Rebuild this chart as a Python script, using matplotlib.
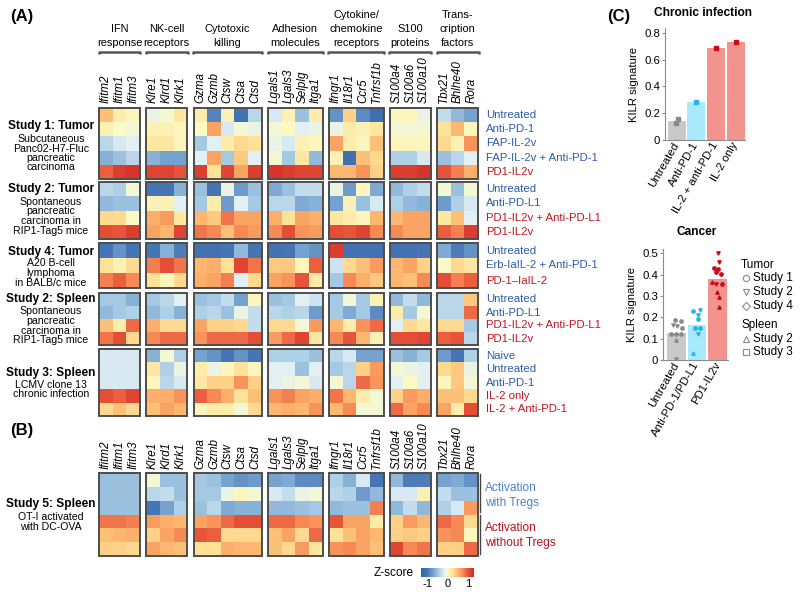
import numpy as np
import matplotlib
matplotlib.use('Agg')
import matplotlib.pyplot as plt
from matplotlib.colors import LinearSegmentedColormap
from matplotlib.patches import Rectangle
from matplotlib.cm import ScalarMappable
from matplotlib.colors import Normalize

plt.rcParams['font.family'] = ['Liberation Sans', 'DejaVu Sans']

# ---- heatmap data -------------------------------------------------------
group_names = [['IFN', 'response'], ['NK-cell', 'receptors'], ['Cytotoxic', 'killing'],
               ['Adhesion', 'molecules'], ['Cytokine/', 'chemokine', 'receptors'],
               ['S100', 'proteins'], ['Trans-', 'cription', 'factors']]
group_genes = [['Ifitm2', 'Ifitm1', 'Ifitm3'], ['Klre1', 'Klrd1', 'Klrk1'],
               ['Gzma', 'Gzmb', 'Ctsw', 'Ctsa', 'Ctsd'], ['Lgals1', 'Lgals3', 'Selplg', 'Itga1'],
               ['Ifngr1', 'Il18r1', 'Ccr5', 'Tnfrsf1b'], ['S100a4', 'S100a6', 'S100a10'],
               ['Tbx21', 'Bhlhe40', 'Rora']]

study1_tumor = [
    [0.45, 0.15, 0.05, -0.1, -0.05, 0.2, 0.15, -0.9, 0.1, -1.05, -0.35, -0.2, 0.1, -0.5, 0.15, -0.8, 0.35, -0.85, -1.1, 0.05, 0.05, -0.1, -0.3, -0.55, -0.7],
    [0.1, 0.0, -0.05, 0.1, 0.1, 0.05, 0.0, 0.6, -0.2, -0.05, -0.1, -0.05, 0.0, -0.15, -0.1, -0.1, 0.15, 0.1, 0.2, -0.05, -0.05, -0.05, 0.25, 0.5, 0.05],
    [-0.35, -0.2, -0.15, 0.2, 0.2, 0.05, -0.45, -0.15, 0.15, 0.3, 0.25, -0.1, -0.2, 0.1, 0.05, 0.6, 0.15, 0.05, 0.45, 0.05, 0.05, 0.05, 0.3, 0.1, 0.7],
    [-0.6, -0.5, -0.35, -0.6, -0.7, -0.7, -0.15, 0.6, -0.45, 0.4, -0.15, -0.05, -0.45, 0.2, -0.55, 0.1, -1.1, 0.45, 0.3, -0.4, -0.4, -0.2, -0.5, -0.35, -0.15],
    [0.95, 1.15, 1.2, 1.1, 1.1, 1.0, 1.15, 0.25, 1.1, 0.6, 1.15, 1.2, 1.15, 1.1, 1.1, 0.5, 0.5, 0.7, 0.35, 1.15, 1.15, 1.2, 1.0, 0.8, 0.55],
]
study2_tumor = [
    [-0.35, -0.4, -0.05, -1.0, -1.0, -0.6, -0.5, -1.0, -0.1, -0.75, -0.5, -0.65, -0.5, -0.3, -0.3, -0.1, -0.75, 0.05, -0.65, -0.55, -0.4, -0.3, -0.05, -0.5, -0.05],
    [-0.55, -0.5, -0.5, 0.1, 0.1, -0.15, -0.45, 0.15, -0.75, -0.15, -0.45, -0.35, -0.35, -0.65, -0.6, -0.7, 0.1, -0.5, -0.2, -0.4, -0.55, -0.6, -0.75, -0.4, -0.2],
    [0.3, 0.3, 0.0, 0.55, 0.65, 0.2, 0.5, 0.4, 0.85, 0.6, 0.6, 0.55, 0.25, 0.6, 0.55, 0.2, 0.15, 0.05, 0.5, 0.5, 0.6, 0.6, 0.2, 0.45, -0.15],
    [1.05, 1.0, 1.15, 0.6, 0.5, 1.1, 0.85, 0.75, 0.45, 0.75, 0.65, 0.75, 1.05, 0.7, 0.65, 1.05, 1.0, 1.1, 0.75, 0.75, 0.6, 0.6, 0.95, 0.8, 1.15],
]
study4_tumor = [
    [-1.0, -0.8, -1.0, -1.0, -0.6, -0.95, -1.05, -1.05, -1.0, -0.55, -1.0, -1.05, -1.0, -0.7, -0.8, 1.15, -1.05, -1.05, -1.05, -1.05, -1.05, -1.0, -0.65, -0.95, -0.8],
    [0.25, 0.1, 0.3, 0.8, 1.05, 0.85, 0.5, 0.55, 0.25, 1.1, 0.85, 0.4, 0.4, 0.05, 0.95, -0.25, 0.3, 0.45, 0.65, 0.5, 0.6, 0.35, 0.0, 0.3, 0.2],
    [0.8, 0.95, 0.75, 0.25, 0.05, 0.3, 0.55, 0.6, 0.8, -0.15, 0.3, 0.6, 0.7, 1.0, 0.15, -0.45, 0.75, 0.55, 0.4, 0.5, 0.45, 0.75, 1.05, 0.8, 0.95],
]
study2_spleen = [
    [-0.45, -0.45, -0.6, -0.45, -0.35, -0.15, -0.5, -0.45, -0.3, -0.7, 0.05, -0.5, -0.45, -0.15, -0.25, -0.45, -0.05, -0.45, 0.1, -0.55, -0.3, -0.55, -0.35, -0.35, 0.4],
    [-0.55, -0.45, -0.4, -0.55, -0.4, -0.6, -0.4, -0.35, -0.5, -0.1, -0.3, -0.35, -0.4, -0.35, -0.75, -0.45, -0.65, -0.45, -0.85, 0.15, -0.45, -0.05, -0.35, -0.35, 0.9],
    [0.45, 0.15, 0.9, 0.55, 0.3, 0.3, 0.6, 0.35, 0.35, 0.3, -0.3, 0.3, 0.3, -0.05, 0.65, 0.5, 0.15, 0.7, 0.9, -0.15, 0.3, 0.2, 0.3, 0.3, -0.45],
    [0.85, 1.05, 0.3, 0.75, 0.9, 0.9, 0.7, 0.9, 0.9, 0.9, 1.05, 0.65, 0.9, 1.1, 0.2, 0.75, 1.0, 0.5, 0.1, 1.05, 1.05, 1.1, 0.95, 1.0, -0.35],
]
study3_spleen = [
    [-0.2, -0.2, -0.2, -0.6, -0.05, -0.4, -0.7, -0.8, -1.0, -0.8, -1.0, -0.4, -0.4, -0.4, -0.5, -0.35, -0.2, -0.7, -0.7, -0.5, -0.6, -0.45, -0.75, -1.0, -0.4],
    [-0.2, -0.2, -0.2, 0.2, -0.4, -0.1, 0.15, -0.1, 0.05, 0.25, 0.05, -0.15, -0.15, -0.5, -0.15, -0.45, -0.35, 0.35, 0.65, -0.05, -0.1, -0.15, 0.3, 0.4, -0.1],
    [-0.2, -0.2, -0.2, 0.05, -0.35, -0.2, 0.2, 0.35, 0.35, 0.7, 0.35, -0.15, -0.1, -0.05, -0.2, -0.05, -0.35, 0.9, 0.7, -0.15, 0.0, -0.15, 0.05, 0.4, -0.05],
    [1.05, 0.95, 1.1, 0.55, 0.55, 0.7, 0.95, 0.75, 0.55, 0.25, 0.45, 0.7, 0.8, 0.6, 0.55, 0.85, 0.5, 0.15, -0.05, 0.35, 0.65, 0.55, 0.45, 0.45, 0.3],
    [0.3, 0.45, 0.3, 0.45, 0.6, 0.5, 0.05, 0.15, 0.15, -0.05, 0.3, 0.5, 0.55, 0.5, 0.7, 0.5, 0.75, -0.05, -0.05, 0.9, 0.6, 0.75, 0.6, 0.15, 1.05],
]
study5_spleen = [
    [-0.5, -0.5, -0.5, -0.05, -0.5, -0.5, -0.45, -0.5, -0.7, -0.8, -0.75, -0.7, -0.65, -0.85, -0.85, -0.4, -0.6, -0.2, -1.0, -0.55, -0.95, -0.95, -0.7, -0.65, -0.8],
    [-0.5, -0.5, -0.5, -0.35, -0.3, -0.5, -0.45, -0.45, -0.1, 0.05, -0.05, -0.2, -0.3, -0.1, -0.05, -0.35, -0.4, -0.75, -0.55, -0.2, -0.2, 0.1, -0.3, -0.5, -0.5],
    [-0.5, -0.5, -0.5, -1.0, -0.7, -0.4, -0.5, -0.35, -0.65, -0.6, -0.6, -0.55, -0.55, -0.5, -0.45, -0.55, -0.5, -0.5, 0.8, -0.55, -0.3, -0.55, -0.4, -0.2, 0.65],
    [0.85, 0.85, 0.8, 0.65, 0.55, 0.5, 0.6, 0.7, 0.9, 1.05, 1.05, 0.9, 0.9, 0.75, 0.7, 1.0, 0.6, 0.6, 0.15, 0.35, 0.65, 0.5, 0.9, 0.75, 0.3],
    [0.45, 0.5, 0.55, 0.35, 0.6, 0.75, 1.0, 0.95, 0.3, 0.3, 0.3, 0.45, 0.6, 0.3, 0.9, 0.25, 0.45, 0.6, 0.5, 0.35, 0.4, 0.35, 0.7, 0.75, 0.05],
    [0.35, 0.35, 0.3, 0.6, 0.5, 0.45, 0.25, 0.25, 0.55, 0.5, 0.5, 0.45, 0.3, 0.65, 0.2, 0.7, 0.75, 0.6, 0.45, 1.1, 0.75, 0.85, 0.35, 0.35, 0.9],
]

# treatment labels ('b' = control, 'r' = IL-2 based)
study1_rows = [('Untreated', 'b'), ('Anti-PD-1', 'b'), ('FAP-IL-2v', 'b'), ('FAP-IL-2v + Anti-PD-1', 'b'), ('PD1-IL2v', 'r')]
study2_rows = [('Untreated', 'b'), ('Anti-PD-L1', 'b'), ('PD1-IL2v + Anti-PD-L1', 'r'), ('PD1-IL2v', 'r')]
study4_rows = [('Untreated', 'b'), ('Erb-IaIL-2 + Anti-PD-1', 'b'), ('PD-1\u2013IaIL-2', 'r')]
study3_rows = [('Naive', 'b'), ('Untreated', 'b'), ('Anti-PD-1', 'b'), ('IL-2 only', 'r'), ('IL-2 + Anti-PD-1', 'r')]

# ---- KILR signature data ------------------------------------------------
chronic_groups = ['Untreated', 'Anti-PD-1', 'IL-2 + anti-PD-1', 'IL-2 only']
chronic_means = [0.14, 0.285, 0.69, 0.73]
chronic_pt_group = [0, 0, 1, 2, 3]
chronic_pt_value = [0.155, 0.13, 0.285, 0.69, 0.735]
chronic_pt_dx = [0.08, -0.03, 0.0, 0.0, 0.0]

cancer_groups = ['Untreated', 'Anti-PD-1/PD-L1', 'PD1-IL2v']
cancer_means = [0.127, 0.163, 0.38]
untreated_pts = [0.187, 0.182, 0.162, 0.158, 0.148, 0.124, 0.122, 0.12, 0.095, 0.006]
untreated_mk = ['o', 'o', 'v', 'v', 'o', 'o', 'D', 'o', '^', 'v']
untreated_dx = [-0.05, 0.2, -0.16, 0.05, 0.28, -0.26, -0.02, 0.2, 0.0, 0.0]
anti_pts = [0.228, 0.232, 0.212, 0.19, 0.15, 0.148, 0.12, 0.033]
anti_mk = ['o', 'v', 'v', 'o', 'o', 'o', 'v', '^']
anti_dx = [-0.18, 0.12, 0.07, 0.04, -0.1, 0.15, 0.07, -0.2]
pd1_pts = [0.50, 0.46, 0.43, 0.425, 0.41, 0.405, 0.366, 0.358, 0.358, 0.32, 0.296, 0.25]
pd1_mk = ['v', 'v', 'o', 'o', 'o', 'o', '^', 'v', 'o', '^', '^', '^']
pd1_dx = [0.02, 0.04, -0.2, 0.03, -0.07, 0.15, -0.28, -0.07, 0.2, -0.01, 0.04, 0.04]

# ---- styling --------------------------------------------------------------
W, H = 800, 594
BLUE, RED = '#2b5caa', '#c0161e'
VMIN, VMAX = -1.3, 1.3
stops = [(-1.3, '#3463ab'), (-1.0, '#4575b4'), (-0.7, '#76a2cf'), (-0.4, '#b0d1e7'),
         (-0.15, '#e2eff4'), (0.0, '#fbfbc6'), (0.25, '#fee297'), (0.5, '#fdb870'),
         (0.75, '#f78955'), (1.0, '#e8553a'), (1.3, '#d02724')]
cmap = LinearSegmentedColormap.from_list('z', [((v - VMIN) / (VMAX - VMIN), c) for v, c in stops])

fig = plt.figure(figsize=(W / 100, H / 100), dpi=100)
ax = fig.add_axes([0, 0, 1, 1])
ax.set_xlim(0, W)
ax.set_ylim(H, 0)
ax.axis('off')

CW, GAP, X0 = 13.65, 6.3, 99
col_left = []
x = X0
for genes in group_genes:
    col_left.append(x)
    x += len(genes) * CW + GAP


def draw_block(mat, top, bottom):
    mat = np.array(mat)
    yedges = np.linspace(top, bottom, mat.shape[0] + 1)
    c = 0
    for gi, genes in enumerate(group_genes):
        k = len(genes)
        xl = col_left[gi]
        xedges = xl + CW * np.arange(k + 1)
        ax.pcolormesh(xedges, yedges, mat[:, c:c + k], cmap=cmap, vmin=VMIN, vmax=VMAX, shading='flat')
        ax.add_patch(Rectangle((xl, top), k * CW, bottom - top, fill=False, ec='#4d4d4d', lw=1.4))
        c += k
    return yedges


def gene_labels(ybase):
    for gi, genes in enumerate(group_genes):
        for j, g in enumerate(genes):
            ax.text(col_left[gi] + (j + 0.5) * CW, ybase, g, rotation=90, style='italic',
                    ha='center', va='bottom', fontsize=8.4)


def row_labels(yedges, rows):
    for i, (lab, c) in enumerate(rows):
        ax.text(486, (yedges[i] + yedges[i + 1]) / 2, lab, color=BLUE if c == 'b' else RED,
                ha='left', va='center', fontsize=8.2)


def study_label(title, lines, ytitle, ysub):
    ax.text(51, ytitle, title, fontweight='bold', ha='center', va='center', fontsize=8.6)
    for i, ln in enumerate(lines):
        ax.text(51, ysub + i * 9.5, ln, ha='center', va='center', fontsize=7.6)


# ---- panel A --------------------------------------------------------------
ax.text(10, 16, '(A)', fontweight='bold', fontsize=12, va='center')
for gi, lines in enumerate(group_names):
    k = len(group_genes[gi])
    xc = col_left[gi] + k * CW / 2
    for i, ln in enumerate(lines):
        ax.text(xc, 42.5 - 13.5 * (len(lines) - 1 - i), ln, ha='center', va='center', fontsize=7.9)
    xl, xr = col_left[gi] - 0.5, col_left[gi] + k * CW + 0.5
    ax.plot([xl, xl, xr, xr], [54, 52, 52, 54], color='#555555', lw=1.8, solid_capstyle='butt')
gene_labels(103)

ye = draw_block(study1_tumor, 108, 179)
row_labels(ye, study1_rows)
study_label('Study 1: Tumor', ['Subcutaneous', 'Panc02-H7-Fluc', 'pancreatic', 'carcinoma'], 126, 139)

ye = draw_block(study2_tumor, 182, 239)
row_labels(ye, study2_rows)
study_label('Study 2: Tumor', ['Spontaneous', 'pancreatic', 'carcinoma in', 'RIP1-Tag5 mice'], 189, 202)

ye = draw_block(study4_tumor, 243, 288)
row_labels(ye, study4_rows)
study_label('Study 4: Tumor', ['A20 B-cell', 'lymphoma', 'in BALB/c mice'], 252, 263.5)

ye = draw_block(study2_spleen, 293, 345)
row_labels(ye, study2_rows)
study_label('Study 2: Spleen', ['Spontaneous', 'pancreatic', 'carcinoma in', 'RIP1-Tag5 mice'], 299, 311.5)

ye = draw_block(study3_spleen, 349, 416)
row_labels(ye, study3_rows)
study_label('Study 3: Spleen', ['LCMV clone 13', 'chronic infection'], 373, 384.5)

# ---- panel B --------------------------------------------------------------
ax.text(10, 430, '(B)', fontweight='bold', fontsize=12, va='center')
gene_labels(469)
draw_block(study5_spleen, 473, 556)
study_label('Study 5: Spleen', ['OT-I activated', 'with DC-OVA'], 504, 517)
ax.plot([480, 480], [474, 512], color='#444444', lw=1.0)
ax.plot([480, 480], [515, 554], color='#444444', lw=1.0)
ax.text(485, 488, 'Activation', color='#4f80cc', fontsize=8.6, va='center')
ax.text(485, 503, 'with Tregs', color='#4f80cc', fontsize=8.6, va='center')
ax.text(485, 528, 'Activation', color='#b8141c', fontsize=8.6, va='center')
ax.text(485, 543, 'without Tregs', color='#b8141c', fontsize=8.6, va='center')

# colour bar
ax.text(414, 573, 'Z-score', ha='right', va='center', fontsize=8.6)
cax = fig.add_axes([421 / W, 1 - 577 / H, 53 / W, 9 / H])
cb = fig.colorbar(ScalarMappable(Normalize(VMIN, VMAX), cmap), cax=cax, orientation='horizontal', ticks=[-1, 0, 1])
cb.outline.set_visible(False)
cb.ax.tick_params(length=0, labelsize=8, pad=1.5)
cb.ax.set_xticklabels(['-1', '0', '1'])

# ---- panel C --------------------------------------------------------------
ax.text(607, 16, '(C)', fontweight='bold', fontsize=12, va='center')
bar_cols = ['#c9c9c9', '#a9e9fc', '#f3938d']
pt_cols = ['#8a8a8a', '#27b5e3', '#cc0a17']


def style_axis(a):
    for s in ['top', 'right']:
        a.spines[s].set_visible(False)
    for s in ['left', 'bottom']:
        a.spines[s].set_color('#8c8c8c')
        a.spines[s].set_linewidth(0.8)
    a.tick_params(axis='y', length=2, color='#8c8c8c', labelsize=8.2, pad=1.5)
    a.tick_params(axis='x', length=0, labelsize=8.2, pad=2)
    a.yaxis.set_major_formatter(plt.FuncFormatter(lambda v, p: '0' if v == 0 else '%.1f' % v))
    a.set_ylabel('KILR signature', fontsize=8.2, labelpad=4)


ax1 = fig.add_axes([665 / W, 1 - 140 / H, 80 / W, 112 / H])
ax1.bar(range(4), chronic_means, width=0.92, color=[bar_cols[0], bar_cols[1], bar_cols[2], bar_cols[2]])
chronic_pt_col = [pt_cols[0], pt_cols[1], pt_cols[2], pt_cols[2]]
for g, v, d in zip(chronic_pt_group, chronic_pt_value, chronic_pt_dx):
    ax1.plot(g + d, v, 's', ms=2.2, color=chronic_pt_col[g])
ax1.set_xlim(-0.6, 3.48)
ax1.set_ylim(0, 0.837)
ax1.set_yticks([0, 0.2, 0.4, 0.6, 0.8])
ax1.set_xticks(range(4))
ax1.set_xticklabels(chronic_groups, rotation=60, ha='right', va='center', rotation_mode='anchor')
style_axis(ax1)
ax.text(703, 13, 'Chronic infection', fontweight='bold', ha='center', va='center', fontsize=8.6)

ax2 = fig.add_axes([663 / W, 1 - 360 / H, 65 / W, 111 / H])
ax2.bar(range(3), cancer_means, width=0.9, color=bar_cols)
for gi, (vals, mks, dxs) in enumerate([(untreated_pts, untreated_mk, untreated_dx),
                                        (anti_pts, anti_mk, anti_dx), (pd1_pts, pd1_mk, pd1_dx)]):
    for v, m, d in zip(vals, mks, dxs):
        ax2.plot(gi + d, v, m, ms=2.4 if m != 'D' else 2.0, color=pt_cols[gi], mec=pt_cols[gi])
ax2.set_xlim(-0.65, 2.5)
ax2.set_ylim(0, 0.52)
ax2.set_yticks([0, 0.1, 0.2, 0.3, 0.4, 0.5])
ax2.set_xticks(range(3))
ax2.set_xticklabels(cancer_groups, rotation=60, ha='right', va='center', rotation_mode='anchor')
style_axis(ax2)
ax.text(697, 232, 'Cancer', fontweight='bold', ha='center', va='center', fontsize=8.6)

# legend
leg_items = [('Tumor', None, 265), ('Study 1', 'o', 278), ('Study 2', 'v', 292), ('Study 4', 'D', 306),
             ('Spleen', None, 325), ('Study 2', '^', 339), ('Study 3', 's', 352)]
for lab, m, y in leg_items:
    if m is None:
        ax.text(741, y, lab, ha='left', va='center', fontsize=8.5)
    else:
        ax.plot(745.5, y, m, ms=4.5 if m != 'D' else 3.6, mfc='none', mec='#8a8a8a', mew=0.8)
        ax.text(753, y, lab, ha='left', va='center', fontsize=8.5)

fig.savefig('out.png', dpi=100)
